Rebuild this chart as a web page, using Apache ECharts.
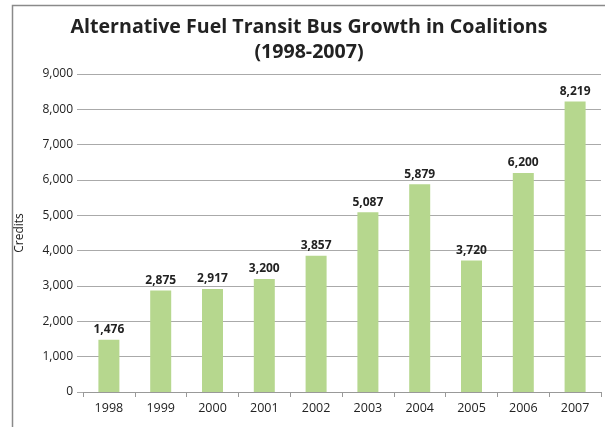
<!DOCTYPE html>
<html><head><meta charset="utf-8">
<script src="https://cdn.jsdelivr.net/npm/echarts@6/dist/echarts.min.js"></script>
<style>html,body{margin:0;padding:0;background:#fff}#c{width:605px;height:427px}</style>
</head><body><div id="c"></div>
<script>
const titleLines = ['Alternative Fuel Transit Bus Growth in Coalitions', '(1998-2007)'];
const categories = ['1998','1999','2000','2001','2002','2003','2004','2005','2006','2007'];
const credits = [1476, 2875, 2917, 3200, 3857, 5087, 5879, 3720, 6200, 8219];
const yTicks = [0, 1000, 2000, 3000, 4000, 5000, 6000, 7000, 8000, 9000];
const fmt = v => v.toLocaleString('en-US');
const titleFont = {fontFamily:'Open Sans', fontWeight:'bold', fontSize:19.6, fill:'#222', align:'center', verticalAlign:'middle'};
const chart = echarts.init(document.getElementById('c'));
chart.setOption({
  animation: false,
  backgroundColor: '#fff',
  graphic: [
    {type:'rect', shape:{x:12.5,y:5.5,width:620,height:450}, style:{fill:'none', stroke:'#8a8a8a', lineWidth:1.5}, silent:true},
    {type:'text', x:309, y:27, style:Object.assign({text:titleLines[0]}, titleFont), silent:true},
    {type:'text', x:309, y:52, style:Object.assign({text:titleLines[1]}, titleFont), silent:true}
  ],
  grid: {left: 83, right: 4, top: 74, bottom: 35},
  xAxis: {type:'category', data: categories,
    axisLine:{lineStyle:{color:'#999', width:1}},
    axisTick:{show:true, length:5, lineStyle:{color:'#999'}},
    axisLabel:{fontFamily:'Open Sans', fontSize:12.5, color:'#222', margin:10}},
  yAxis: {type:'value', min: yTicks[0], max: yTicks[yTicks.length-1], interval: 1000,
    name:'Credits', nameLocation:'middle', nameGap:57, nameRotate:90,
    nameTextStyle:{fontFamily:'Open Sans', fontSize:12, color:'#222'},
    axisLine:{show:false},
    axisTick:{show:true, length:6, lineStyle:{color:'#aaa'}},
    splitLine:{lineStyle:{color:'#aaa', width:1}},
    axisLabel:{fontFamily:'Open Sans', fontSize:12, color:'#222', margin:10, formatter: v => fmt(v)}},
  series: [{type:'bar', data: credits, barWidth: 21,
    itemStyle:{color:'#b6d78e'},
    label:{show:true, position:'top', distance:4, fontFamily:'Open Sans', fontWeight:'bold', fontSize:12, color:'#222',
      formatter: p => fmt(p.value)}}]
});
</script></body></html>
